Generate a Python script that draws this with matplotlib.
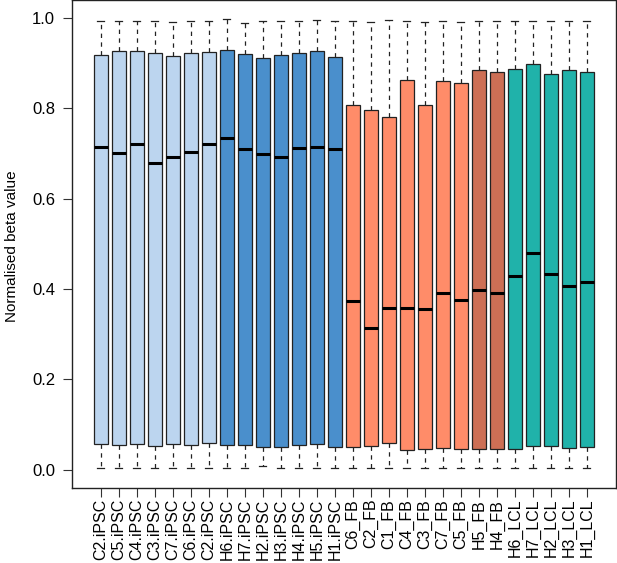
import matplotlib
matplotlib.use("Agg")
import matplotlib.pyplot as plt

labels = ["C2.iPSC", "C5.iPSC", "C4.iPSC", "C3.iPSC", "C7.iPSC", "C6.iPSC", "C2.iPSC",
          "H6.iPSC", "H7.iPSC", "H2.iPSC", "H3.iPSC", "H4.iPSC", "H5.iPSC", "H1.iPSC",
          "C6_FB", "C2_FB", "C1_FB", "C4_FB", "C3_FB", "C7_FB", "C5_FB",
          "H5_FB", "H4_FB",
          "H6_LCL", "H7_LCL", "H2_LCL", "H3_LCL", "H1_LCL"]

whishi = [0.993, 0.993, 0.992, 0.993, 0.990, 0.993, 0.993,
          0.997, 0.989, 0.993, 0.993, 0.993, 0.996, 0.992,
          0.993, 0.990, 0.996, 0.993, 0.990, 0.993, 0.990,
          0.993, 0.993,
          0.993, 0.993, 0.993, 0.993, 0.993]
q3 = [0.918, 0.926, 0.927, 0.922, 0.916, 0.921, 0.925,
      0.929, 0.920, 0.912, 0.917, 0.921, 0.926, 0.913,
      0.806, 0.796, 0.781, 0.863, 0.806, 0.859, 0.856,
      0.885, 0.879,
      0.887, 0.898, 0.876, 0.884, 0.879]
med = [0.713, 0.700, 0.720, 0.678, 0.692, 0.703, 0.720,
       0.734, 0.709, 0.699, 0.692, 0.712, 0.715, 0.709,
       0.374, 0.313, 0.358, 0.357, 0.355, 0.391, 0.375,
       0.398, 0.392,
       0.428, 0.479, 0.432, 0.407, 0.415]
q1 = [0.057, 0.054, 0.057, 0.052, 0.056, 0.055, 0.060,
      0.055, 0.054, 0.051, 0.051, 0.054, 0.056, 0.049,
      0.050, 0.053, 0.058, 0.044, 0.046, 0.048, 0.046,
      0.046, 0.046,
      0.046, 0.053, 0.052, 0.048, 0.050]
whislo = [0.004, 0.004, 0.004, 0.004, 0.004, 0.004, 0.004,
          0.004, 0.004, 0.008, 0.004, 0.004, 0.004, 0.004,
          0.004, 0.004, 0.004, 0.004, 0.004, 0.004, 0.004,
          0.004, 0.004,
          0.004, 0.004, 0.004, 0.004, 0.004]

group_sizes = [7, 7, 7, 2, 5]
group_colors = ["#BCD5EF", "#4A8FCC", "#FF8C69", "#CD6F55", "#20B2AA"]

colors = []
for n, c in zip(group_sizes, group_colors):
    colors += [c] * n

plt.rcParams['font.family'] = ['Liberation Sans', 'DejaVu Sans']

fig = plt.figure(figsize=(6.17, 5.63), dpi=100)
ax = fig.add_axes([71.7 / 617, (563 - 487.7) / 563, (616 - 71.7) / 617, 488.0 / 563])

stats = []
for i in range(len(labels)):
    stats.append(dict(label=labels[i], whislo=whislo[i], q1=q1[i], med=med[i],
                      q3=q3[i], whishi=whishi[i], fliers=[]))

positions = list(range(1, len(labels) + 1))
bp = ax.bxp(stats, positions=positions, widths=0.8, patch_artist=True,
            showfliers=False,
            boxprops=dict(edgecolor="#222222", linewidth=0.9),
            medianprops=dict(color="black", linewidth=2.2, solid_capstyle="butt"),
            whiskerprops=dict(color="#222222", linewidth=0.9, linestyle=(0, (3.5, 3.5))),
            capprops=dict(color="#222222", linewidth=0.9),
            capwidths=0.4)
for patch, c in zip(bp["boxes"], colors):
    patch.set_facecolor(c)

n = len(labels)
ax.set_xlim(0.5 - 0.04 * n, n + 0.5 + 0.04 * n)
ax.set_ylim(-0.04, 1.04)
ax.set_yticks([0.0, 0.2, 0.4, 0.6, 0.8, 1.0])
ax.set_yticklabels(["0.0", "0.2", "0.4", "0.6", "0.8", "1.0"], fontsize=12)
ax.set_xticks(positions)
ax.set_xticklabels(labels, rotation=90, fontsize=11.5)
ax.tick_params(axis="both", direction="out", length=6.5, width=0.8, color="#333333")
ax.tick_params(axis="y", pad=5.5)
ax.tick_params(axis="x", pad=1.5)
for s in ax.spines.values():
    s.set_linewidth(1.0)
    s.set_color("#222222")
fig.text(12 / 617, 1 - 246 / 563, "Normalised beta value", rotation=90,
         ha="center", va="center", fontsize=11)

fig.savefig("out.png", dpi=100)
